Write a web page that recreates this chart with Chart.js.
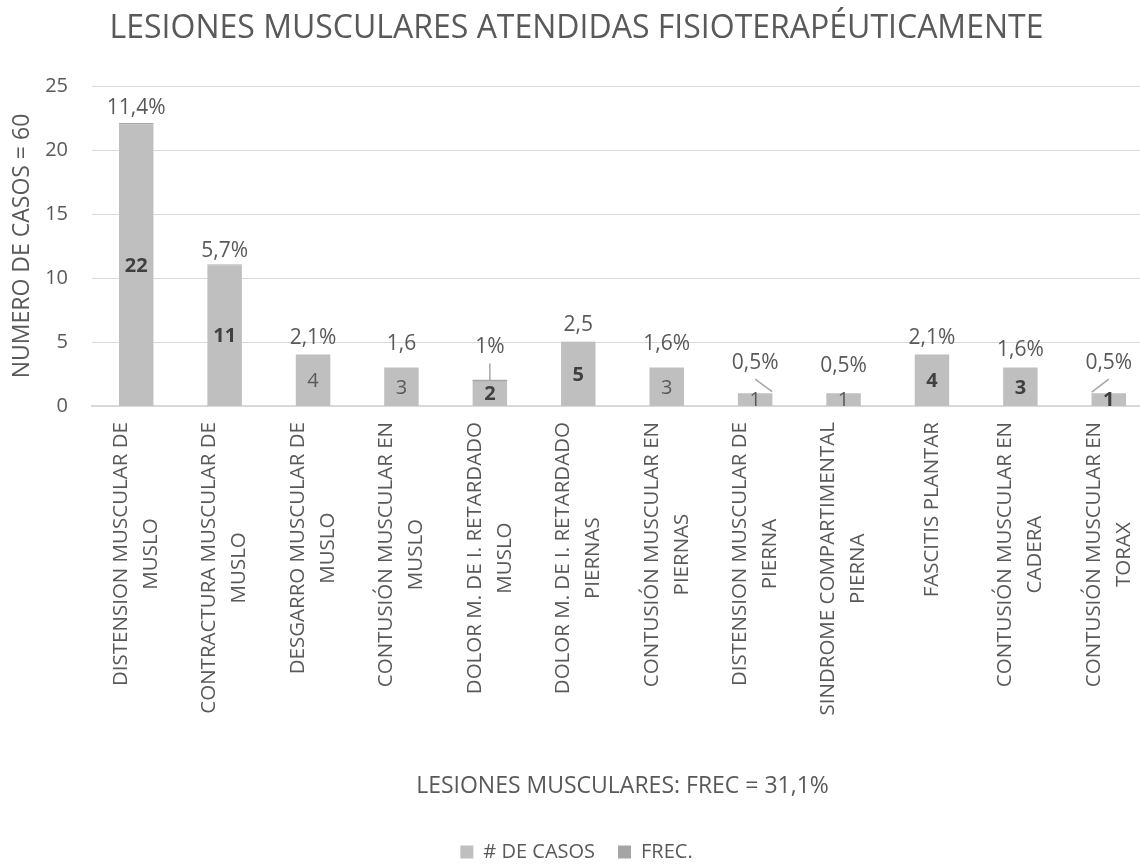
<!DOCTYPE html>
<html>
<head>
<meta charset="utf-8">
<script src="https://cdn.jsdelivr.net/npm/chart.js@4.4.1/dist/chart.umd.min.js"></script>
<style>
  html, body { margin: 0; padding: 0; overflow: hidden; background: #fff; }
  #wrap { position: absolute; left: 0; top: 0; width: 1160px; height: 872px; }
</style>
</head>
<body>
<div id="wrap"><canvas id="chart"></canvas></div>
<script>
// data
const categories = [
  ['DISTENSION MUSCULAR DE', 'MUSLO'],
  ['CONTRACTURA MUSCULAR DE', 'MUSLO'],
  ['DESGARRO MUSCULAR DE', 'MUSLO'],
  ['CONTUSIÓN MUSCULAR EN', 'MUSLO'],
  ['DOLOR M. DE I. RETARDADO', 'MUSLO'],
  ['DOLOR M. DE I. RETARDADO', 'PIERNAS'],
  ['CONTUSIÓN MUSCULAR EN', 'PIERNAS'],
  ['DISTENSION MUSCULAR DE', 'PIERNA'],
  ['SINDROME COMPARTIMENTAL', 'PIERNA'],
  ['FASCITIS PLANTAR'],
  ['CONTUSIÓN MUSCULAR EN', 'CADERA'],
  ['CONTUSIÓN MUSCULAR EN', 'TORAX'],
];
const casos      = [22, 11, 4, 3, 2, 5, 3, 1, 1, 4, 3, 1];
const frec       = [0.114, 0.057, 0.021, 0.016, 0.01, 0.025, 0.016, 0.005, 0.005, 0.021, 0.016, 0.005];
const frecLabels = ['11,4%', '5,7%', '2,1%', '1,6', '1%', '2,5', '1,6%', '0,5%', '0,5%', '2,1%', '1,6%', '0,5%'];
const yMax  = 25;
const yStep = 5;

const TEXT = '#595959';
const FONT = '"Open Sans", sans-serif';
Chart.defaults.font.family = FONT;

// ── bar value labels, FREC labels with leader lines, centred x category labels ──
const barText = {
  id: 'barText',
  afterDatasetsDraw(chart, args, opts) {
    const { ctx } = chart;
    const meta = chart.getDatasetMeta(0);
    ctx.save();
    ctx.textAlign = 'center';
    ctx.textBaseline = 'middle';
    meta.data.forEach((bar, i) => {
      const bold = opts.bold[i];
      ctx.font = `${bold ? 'bold ' : ''}20px ${FONT}`;
      ctx.fillStyle = bold ? '#404040' : TEXT;
      ctx.fillText(String(casos[i]), bar.x, (bar.y + bar.base) / 2 + 1);

      const top = bar.y;
      ctx.font = `21px ${FONT}`;
      ctx.fillStyle = TEXT;
      ctx.fillText(frecLabels[i], bar.x, top - opts.lift[i] + 1);

      const kind = opts.leader[i];
      if (!kind) return;
      ctx.strokeStyle = '#a6a6a6';
      ctx.lineWidth = 1.5;
      ctx.beginPath();
      if (kind === 'v') {
        ctx.moveTo(bar.x, top - 17);
        ctx.lineTo(bar.x, top);
        ctx.moveTo(bar.x - bar.width / 2, top);
        ctx.lineTo(bar.x + bar.width / 2, top);
      } else if (kind === 'r') {
        ctx.moveTo(bar.x, top - 14);
        ctx.lineTo(bar.x + 17, top - 1.5);
      } else {
        ctx.moveTo(bar.x, top - 14);
        ctx.lineTo(bar.x - 17, top - 1);
      }
      ctx.stroke();
    });
    ctx.restore();
  },
  afterDraw(chart, args, opts) {
    const { ctx, chartArea } = chart;
    const xs = chart.scales.x;
    ctx.save();
    ctx.font = `${opts.catSize}px ${FONT}`;
    ctx.fillStyle = TEXT;
    ctx.textAlign = 'center';
    ctx.textBaseline = 'middle';
    chart.data.labels.forEach((lines, i) => {
      const cx = xs.getPixelForValue(i);
      const maxW = Math.max(...lines.map(l => ctx.measureText(l).width));
      ctx.save();
      ctx.translate(cx, chartArea.bottom + opts.catGap);
      ctx.rotate(-Math.PI / 2);
      lines.forEach((l, j) => {
        ctx.fillText(l, -maxW / 2, (j - (lines.length - 1) / 2) * opts.catLine);
      });
      ctx.restore();
    });
    ctx.restore();
  },
};

new Chart(document.getElementById('chart').getContext('2d'), {
  type: 'bar',
  data: {
    labels: categories,
    datasets: [
      { label: '# DE CASOS', data: casos, backgroundColor: '#bfbfbf' },
      { label: 'FREC.',      data: frec,  backgroundColor: '#a5a5a5' },
    ],
  },
  options: {
    responsive: true,
    maintainAspectRatio: false,
    animation: false,
    layout: { padding: { left: 0, right: 7, top: 0, bottom: 0 } },
    datasets: { bar: { categoryPercentage: 1, barPercentage: 0.39 } },
    scales: {
      x: {
        stacked: true,
        grid: { display: false },
        border: { color: '#d9d9d9', width: 2 },
        ticks: { display: false },
        title: {
          display: true, text: 'LESIONES MUSCULARES: FREC = 31,1%',
          color: TEXT, font: { size: 23 }, padding: { top: 0, bottom: 19 },
        },
        afterFit: s => { s.height = 413; },
      },
      y: {
        stacked: true,
        min: 0, max: yMax,
        ticks: { stepSize: yStep, color: TEXT, font: { size: 20 }, padding: 24 },
        grid: { color: '#d9d9d9', drawTicks: false, lineWidth: c => (c.tick && c.tick.value === 0 ? 0 : 1) },
        border: { display: false },
        title: {
          display: true, text: 'NUMERO DE CASOS = 60',
          color: TEXT, font: { size: 23 }, padding: { top: 9, bottom: 0 },
        },
        afterFit: s => { s.width = 92; },
      },
    },
    plugins: {
      title: {
        display: true,
        text: 'LESIONES MUSCULARES ATENDIDAS FISIOTERAPÉUTICAMENTE',
        color: TEXT, font: { size: 32, weight: 'normal' },
        padding: { top: 10, bottom: 37.6 },
      },
      legend: {
        position: 'bottom',
        labels: { boxWidth: 13, boxHeight: 13, color: TEXT, font: { size: 20 }, padding: 23 },
      },
      tooltip: { enabled: false },
      barText: {
        bold: [true, true, false, false, true, true, false, false, false, true, true, true],
        lift: [17, 15, 18, 25, 34, 18, 25, 31.5, 28, 18, 18.4, 31.5],
        leader: { 4: 'v', 7: 'r', 11: 'l' },
        catSize: 20.5, catLine: 30, catGap: 16,
      },
    },
  },
  plugins: [barText],
});
</script>
</body>
</html>
